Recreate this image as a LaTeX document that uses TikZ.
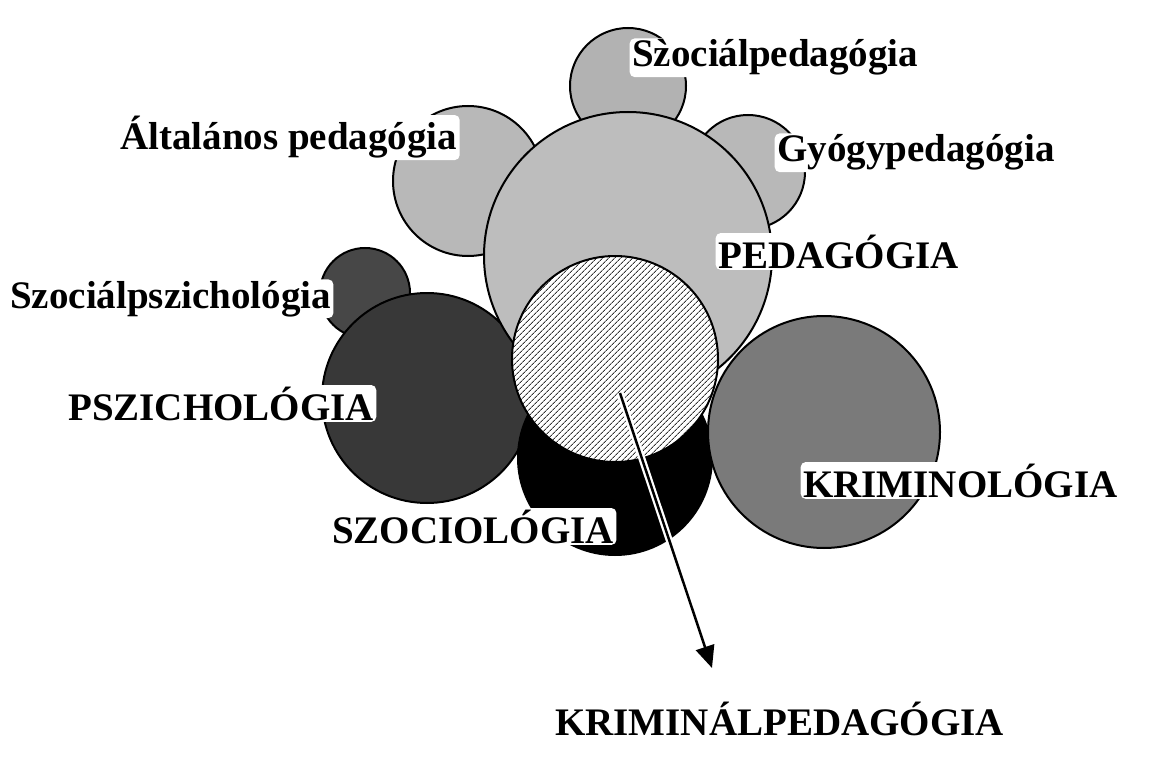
\documentclass[tikz,border=0pt]{standalone}
\usepackage{fontspec}
\setmainfont{Liberation Serif}
\newfontfamily\gravefont{Liberation Serif}
\usetikzlibrary{arrows.meta,patterns.meta}
\begin{document}
\begin{tikzpicture}[x=1pt,y=-1pt,
  circ/.style={circle, draw=black, line width=2pt, inner sep=0pt, outer sep=0pt},
  lbl/.style={font=\fontsize{39}{39}\selectfont\bfseries, anchor=base west, inner sep=0pt},
  halo/.style={lbl, fill=white, inner xsep=2.5pt, inner ysep=1.5pt, rounded corners=5pt}]
\useasboundingbox[fill=white] (0,0) rectangle (1171,765);
% circles
\node[circ, fill=black!72, minimum size=90pt]  (szpsz) at (365,293) {};
\node[circ, fill=black!78, minimum size=210pt] (psz)   at (427,398) {};
\node[circ, fill=black!28, minimum size=150pt] (altped) at (468,181) {};
\node[circ, fill=black!30, minimum size=116pt] (sped)  at (628,86) {};
\node[circ, fill=black!28, minimum size=114pt] (gyogy) at (748,172) {};
\node[circ, fill=black!26, minimum size=288pt] (ped)   at (628,256) {};
\node[circ, fill=black, minimum size=194pt]    (szoc)  at (615,458) {};
\node[circ, fill=black!52, minimum size=232pt] (krimi) at (824,432) {};
\node[circ, preaction={fill=white}, pattern={Lines[angle=45,distance=4pt,line width=0.9pt]}, pattern color=black!80, minimum size=206pt] (kped) at (615,359) {};
% arrow
\coordinate (astart) at (620,393);
\coordinate (atip) at (712,668);
\draw[white, line width=7pt, shorten >=22pt] (astart) -- (atip);
\draw[black, line width=2.5pt, -{Triangle[length=22pt,width=19pt]}] (astart) -- (atip);
% labels
\node[halo] (lsped)   at (629.5,67)  {Sz\kern-0.39em{\gravefont\bfseries\char"0060}\kern0.06em ociálpedagógia};
\node[halo] (laltped) at (117.5,150) {Általános pedagógia};
\node[halo] (lgyogy)  at (774.5,162) {Gyógypedagógia};
\node[halo] (lped)    at (715.5,268) {PEDAGÓGIA};
\node[halo] (lszpsz)  at (7.5,308)   {Szociálpszichológia};
\node[halo] (lpsz)    at (65.5,420)  {PSZICHOLÓGIA};
\node[halo] (lszoc)   at (329.5,543) {SZOCIOLÓGIA};
\node[halo] (lkrimi)  at (800.5,497) {KRIMINOLÓGIA};
\node[lbl]  (lkped)   at (555,735)   {KRIMINÁLPEDAGÓGIA};
\end{tikzpicture}
\end{document}
